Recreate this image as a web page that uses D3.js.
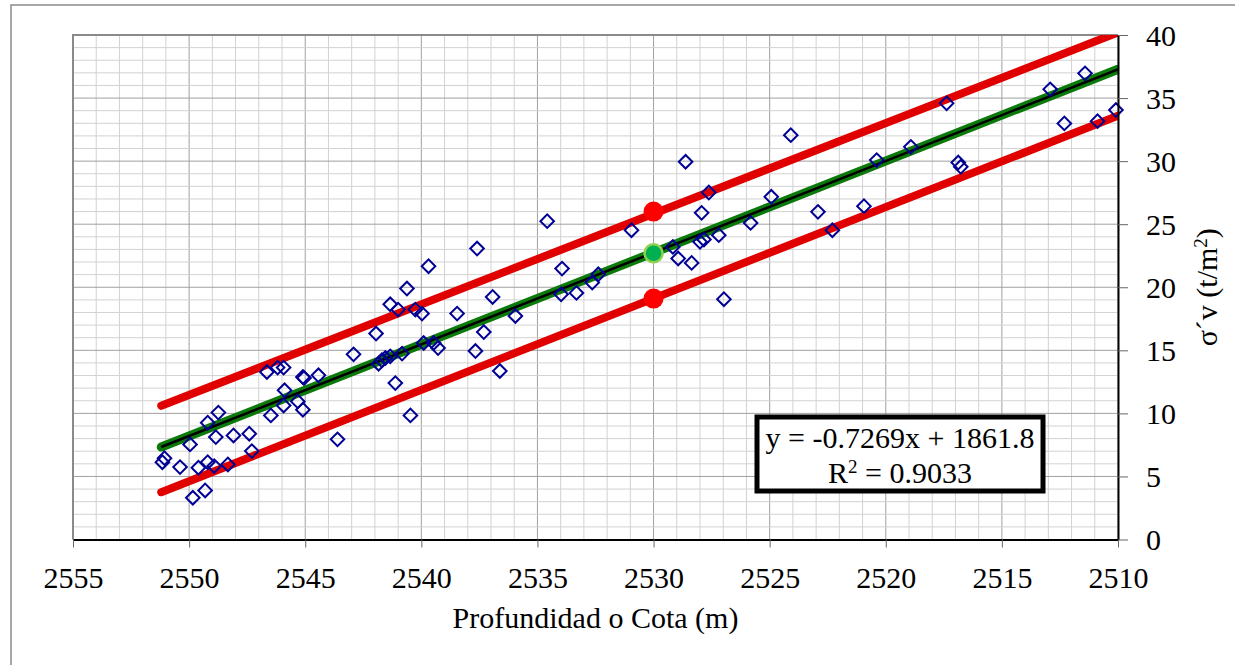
<!DOCTYPE html>
<html>
<head>
<meta charset="utf-8">
<script src="https://cdn.jsdelivr.net/npm/d3@7"></script>
<style>
  html, body { margin: 0; padding: 0; background: #fff; }
  svg { display: block; }
  text { font-family: "Liberation Serif", "Times New Roman", serif; fill: #000; }
</style>
</head>
<body>
<svg id="chart" width="1235" height="665"></svg>
<script>
// Measured points: depth / elevation (m) and effective vertical stress (t/m2)
const cota = [
  2551.15, 2551.06, 2550.39, 2549.96, 2549.84, 2549.31, 2549.60, 2549.20, 2548.92, 2548.33,
  2549.20, 2548.74, 2548.85, 2548.09, 2547.41, 2547.30, 2546.48, 2545.89, 2545.93, 2545.32,
  2545.10, 2546.65, 2546.19, 2545.93, 2545.10, 2545.05, 2544.43, 2543.61, 2542.92, 2541.95,
  2541.84, 2541.70, 2541.55, 2541.34, 2540.83, 2541.12, 2540.47, 2541.34, 2541.00, 2540.62,
  2540.26, 2539.97, 2539.69, 2539.90, 2539.47, 2539.28, 2538.46, 2537.67, 2537.60, 2537.31,
  2536.93, 2536.62, 2535.95, 2534.58, 2533.94, 2533.98, 2533.32, 2532.64, 2532.38, 2530.95,
  2529.17, 2528.94, 2528.36, 2528.00, 2527.83, 2527.19, 2527.93, 2527.62, 2528.62, 2526.97,
  2525.82, 2524.93, 2524.09, 2522.92, 2522.30, 2520.94, 2520.39, 2518.92, 2517.38, 2516.88,
  2516.77, 2512.92, 2511.42, 2512.31, 2510.88, 2510.09
];
const sigma = [
  6.13, 6.45, 5.74, 7.54, 3.31, 3.89, 5.69, 6.13, 5.82, 5.95,
  9.26, 10.06, 8.12, 8.25, 8.39, 7.01, 9.84, 11.83, 10.63, 10.95,
  10.29, 13.28, 13.63, 13.63, 12.88, 12.80, 13.02, 7.94, 14.68, 16.33,
  13.94, 14.21, 14.39, 14.52, 14.74, 12.40, 9.84, 18.65, 18.23, 19.90,
  18.23, 17.91, 21.67, 15.58, 15.58, 15.18, 17.91, 14.94, 23.07, 16.45,
  19.23, 13.36, 17.72, 25.24, 21.48, 19.44, 19.55, 20.37, 21.03, 24.52,
  23.20, 22.28, 21.93, 23.60, 23.79, 24.13, 25.90, 27.51, 29.95, 19.05,
  25.10, 27.17, 32.06, 25.98, 24.52, 26.43, 30.08, 31.13, 34.58, 29.89,
  29.55, 35.69, 36.96, 32.99, 33.17, 34.05
];

// Linear trend y = a*x + b over the sampled range
const trendSlope = -0.7269;
const trendIntercept = 1861.8;
const trendRange = [2551.2, 2510];

// Upper and lower bounding lines (start / end values)
const upperCota = [2551.2, 2510];
const upperSigma = [10.6, 40.2];
const lowerCota = [2551.2, 2510];
const lowerSigma = [3.75, 33.6];

// Highlighted points at cota 2530
const refCota = [2530, 2530];
const refSigma = [26.0, 19.1];
const meanCota = 2530;
const meanSigma = 22.7;

const xTicks = [2555, 2550, 2545, 2540, 2535, 2530, 2525, 2520, 2515, 2510];
const yTicks = [0, 5, 10, 15, 20, 25, 30, 35, 40];

const eqText = "y = -0.7269x + 1861.8";
const r2Value = "0.9033";

const svg = d3.select("#chart");
const pLeft = 73, pRight = 1118, pTop = 35, pBottom = 539.5;

const x = d3.scaleLinear().domain([2555, 2510]).range([pLeft, pRight]);
const y = d3.scaleLinear().domain([0, 40]).range([pBottom, pTop]);

// Outer chart frame
svg.append("path")
  .attr("d", "M11,665 L11,5 L1235,5")
  .attr("fill", "none").attr("stroke", "#8c8c8c").attr("stroke-width", 1.5);

// Grid
const g = svg.append("g");
const minorX = d3.range(2555, 2509, -1);
const minorY = d3.range(0, 41, 1);
g.selectAll(".mx").data(minorX).join("line")
  .attr("x1", d => x(d)).attr("x2", d => x(d))
  .attr("y1", pTop).attr("y2", pBottom)
  .attr("stroke", d => d % 5 === 0 ? "#a0a0a0" : "#d2d2d2").attr("stroke-width", 1);
g.selectAll(".my").data(minorY).join("line")
  .attr("x1", pLeft).attr("x2", pRight)
  .attr("y1", d => y(d)).attr("y2", d => y(d))
  .attr("stroke", d => d % 5 === 0 ? "#a0a0a0" : "#d2d2d2").attr("stroke-width", 1);

// Plot area top / left border
svg.append("path")
  .attr("d", `M${pLeft},${pBottom} L${pLeft},${pTop} L${pRight},${pTop}`)
  .attr("fill", "none").attr("stroke", "#8a8a8a").attr("stroke-width", 2);

// Clip for series lines
svg.append("clipPath").attr("id", "plotClip")
  .append("rect").attr("x", pLeft).attr("y", pTop)
  .attr("width", pRight - pLeft).attr("height", pBottom - pTop);

const lines = svg.append("g").attr("clip-path", "url(#plotClip)");
const line = d3.line().x(d => x(d[0])).y(d => y(d[1]));

const upperPts = upperCota.map((c, i) => [c, upperSigma[i]]);
const lowerPts = lowerCota.map((c, i) => [c, lowerSigma[i]]);
const trendPts = trendRange.map(c => [c, trendSlope * c + trendIntercept]);

lines.append("path").datum(upperPts).attr("d", line)
  .attr("fill", "none").attr("stroke", "#e00000").attr("stroke-width", 8).attr("stroke-linecap", "round");
lines.append("path").datum(lowerPts).attr("d", line)
  .attr("fill", "none").attr("stroke", "#e00000").attr("stroke-width", 8).attr("stroke-linecap", "round");
lines.append("path").datum(trendPts).attr("d", line)
  .attr("fill", "none").attr("stroke", "#0b7a0b").attr("stroke-width", 9).attr("stroke-linecap", "round");
lines.append("path").datum(trendPts).attr("d", line)
  .attr("fill", "none").attr("stroke", "#000").attr("stroke-width", 2.5);

// Data points as open diamonds
const pts = cota.map((c, i) => [c, sigma[i]]);
const diamond = d3.symbol().type(d3.symbolSquare).size(92);
svg.append("g").selectAll("path").data(pts).join("path")
  .attr("d", diamond)
  .attr("transform", d => `translate(${x(d[0])},${y(d[1])}) rotate(45)`)
  .attr("fill", "none").attr("stroke", "#000096").attr("stroke-width", 2);

// Highlighted points
svg.append("g").selectAll("circle").data(refCota.map((c, i) => [c, refSigma[i]])).join("circle")
  .attr("cx", d => x(d[0])).attr("cy", d => y(d[1])).attr("r", 10)
  .attr("fill", "#ff0000");
svg.append("circle")
  .attr("cx", x(meanCota)).attr("cy", y(meanSigma)).attr("r", 9)
  .attr("fill", "#00b050").attr("stroke", "#92d050").attr("stroke-width", 2.5);

// Axes
const xAxis = svg.append("g").attr("transform", `translate(0,${pBottom})`)
  .call(d3.axisBottom(x).tickValues(xTicks).tickSize(8).tickSizeOuter(0).tickFormat(d3.format("d")));
xAxis.select(".domain").attr("stroke", "#000").attr("stroke-width", 2);
xAxis.selectAll(".tick line").attr("stroke", "#666");
xAxis.selectAll(".tick text").attr("y", 48).attr("dy", 0)
  .style("font-size", "30px").style("font-family", "Liberation Serif");

const yAxis = svg.append("g").attr("transform", `translate(${pRight},0)`)
  .call(d3.axisRight(y).tickValues(yTicks).tickSize(10).tickSizeOuter(0));
yAxis.select(".domain").attr("stroke", "#000").attr("stroke-width", 2);
yAxis.selectAll(".tick line").attr("stroke", "#666");
yAxis.selectAll(".tick text").attr("x", 28).attr("dy", "0.34em")
  .style("font-size", "30px").style("font-family", "Liberation Serif");

// Axis titles
svg.append("text")
  .attr("x", (pLeft + pRight) / 2).attr("y", 628)
  .attr("text-anchor", "middle").style("font-size", "30px")
  .text("Profundidad o Cota (m)");

const yTitle = svg.append("text")
  .attr("transform", `translate(1217,${(pTop + pBottom) / 2}) rotate(-90)`)
  .attr("text-anchor", "middle").style("font-size", "30px");
yTitle.append("tspan").text("σ´v (t/m");
yTitle.append("tspan").attr("baseline-shift", "super").style("font-size", "19px").text("2");
yTitle.append("tspan").text(")");

// Trendline equation box
svg.append("rect")
  .attr("x", 757).attr("y", 417).attr("width", 286).attr("height", 74)
  .attr("fill", "#fff").attr("stroke", "#000").attr("stroke-width", 5);
svg.append("text")
  .attr("x", 900).attr("y", 448).attr("text-anchor", "middle").style("font-size", "30px")
  .text(eqText);
const r2 = svg.append("text")
  .attr("x", 900).attr("y", 483).attr("text-anchor", "middle").style("font-size", "30px");
r2.append("tspan").text("R");
r2.append("tspan").attr("baseline-shift", "super").style("font-size", "19px").text("2");
r2.append("tspan").text(" = " + r2Value);
</script>
</body>
</html>
